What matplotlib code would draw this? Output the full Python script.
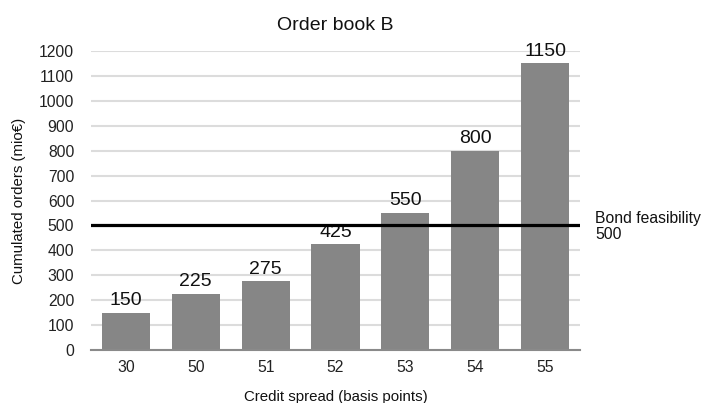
import matplotlib
matplotlib.use("Agg")
import matplotlib.pyplot as plt

categories = ["30", "50", "51", "52", "53", "54", "55"]
orders = [150, 225, 275, 425, 550, 800, 1150]
yticks = [0, 100, 200, 300, 400, 500, 600, 700, 800, 900, 1000, 1100, 1200]
threshold = 500
threshold_label = "Bond feasibility\n500"
title = "Order book B"
xlabel = "Credit spread (basis points)"
ylabel = "Cumulated orders (mio€)"

plt.rcParams['font.family'] = ['Liberation Sans', 'DejaVu Sans']

fig = plt.figure(figsize=(7.12, 4.03), dpi=100)
ax = fig.add_axes([0.1278, 0.1315, 0.6868, 0.7419])

x = list(range(len(categories)))
ax.bar(x, orders, width=0.69, color="#868686", zorder=2)
ax.set_xlim(-0.5, len(categories) - 0.5)
ax.set_ylim(0, 1200)
ax.set_yticks(yticks)
ax.set_xticks(x)
ax.set_xticklabels(categories)
ax.grid(axis="y", color="#dcdcdc", linewidth=1.5, zorder=0)
ax.set_axisbelow(True)
for s in ["top", "right", "left"]:
    ax.spines[s].set_visible(False)
ax.spines["bottom"].set_color("#8a8a8a")
ax.spines["bottom"].set_linewidth(1.5)
ax.spines["bottom"].set_zorder(3)
ax.tick_params(axis="y", length=0, pad=12, labelsize=11.3, labelcolor="#222222")
ax.tick_params(axis="x", length=0, pad=7, labelsize=11.3, labelcolor="#222222")

for xi, v in zip(x, orders):
    ax.annotate(str(v), (xi, v), xytext=(0, 2.5), textcoords="offset points",
                ha="center", va="bottom", fontsize=14, color="#111111",
                annotation_clip=False)

ax.axhline(threshold, color="black", linewidth=2.3, zorder=4)
ax.annotate(threshold_label, (1, threshold), xycoords=("axes fraction", "data"),
            xytext=(11, -1), textcoords="offset points", ha="left", va="center",
            fontsize=11.3, color="#111111", linespacing=1.1,
            annotation_clip=False)
ax.set_title(title, fontsize=14, pad=15, color="#111111")
ax.set_xlabel(xlabel, fontsize=10.8, labelpad=11, color="#111111")
ax.set_ylabel(ylabel, fontsize=10.8, labelpad=9, color="#111111")

fig.savefig("out.png", dpi=100)
